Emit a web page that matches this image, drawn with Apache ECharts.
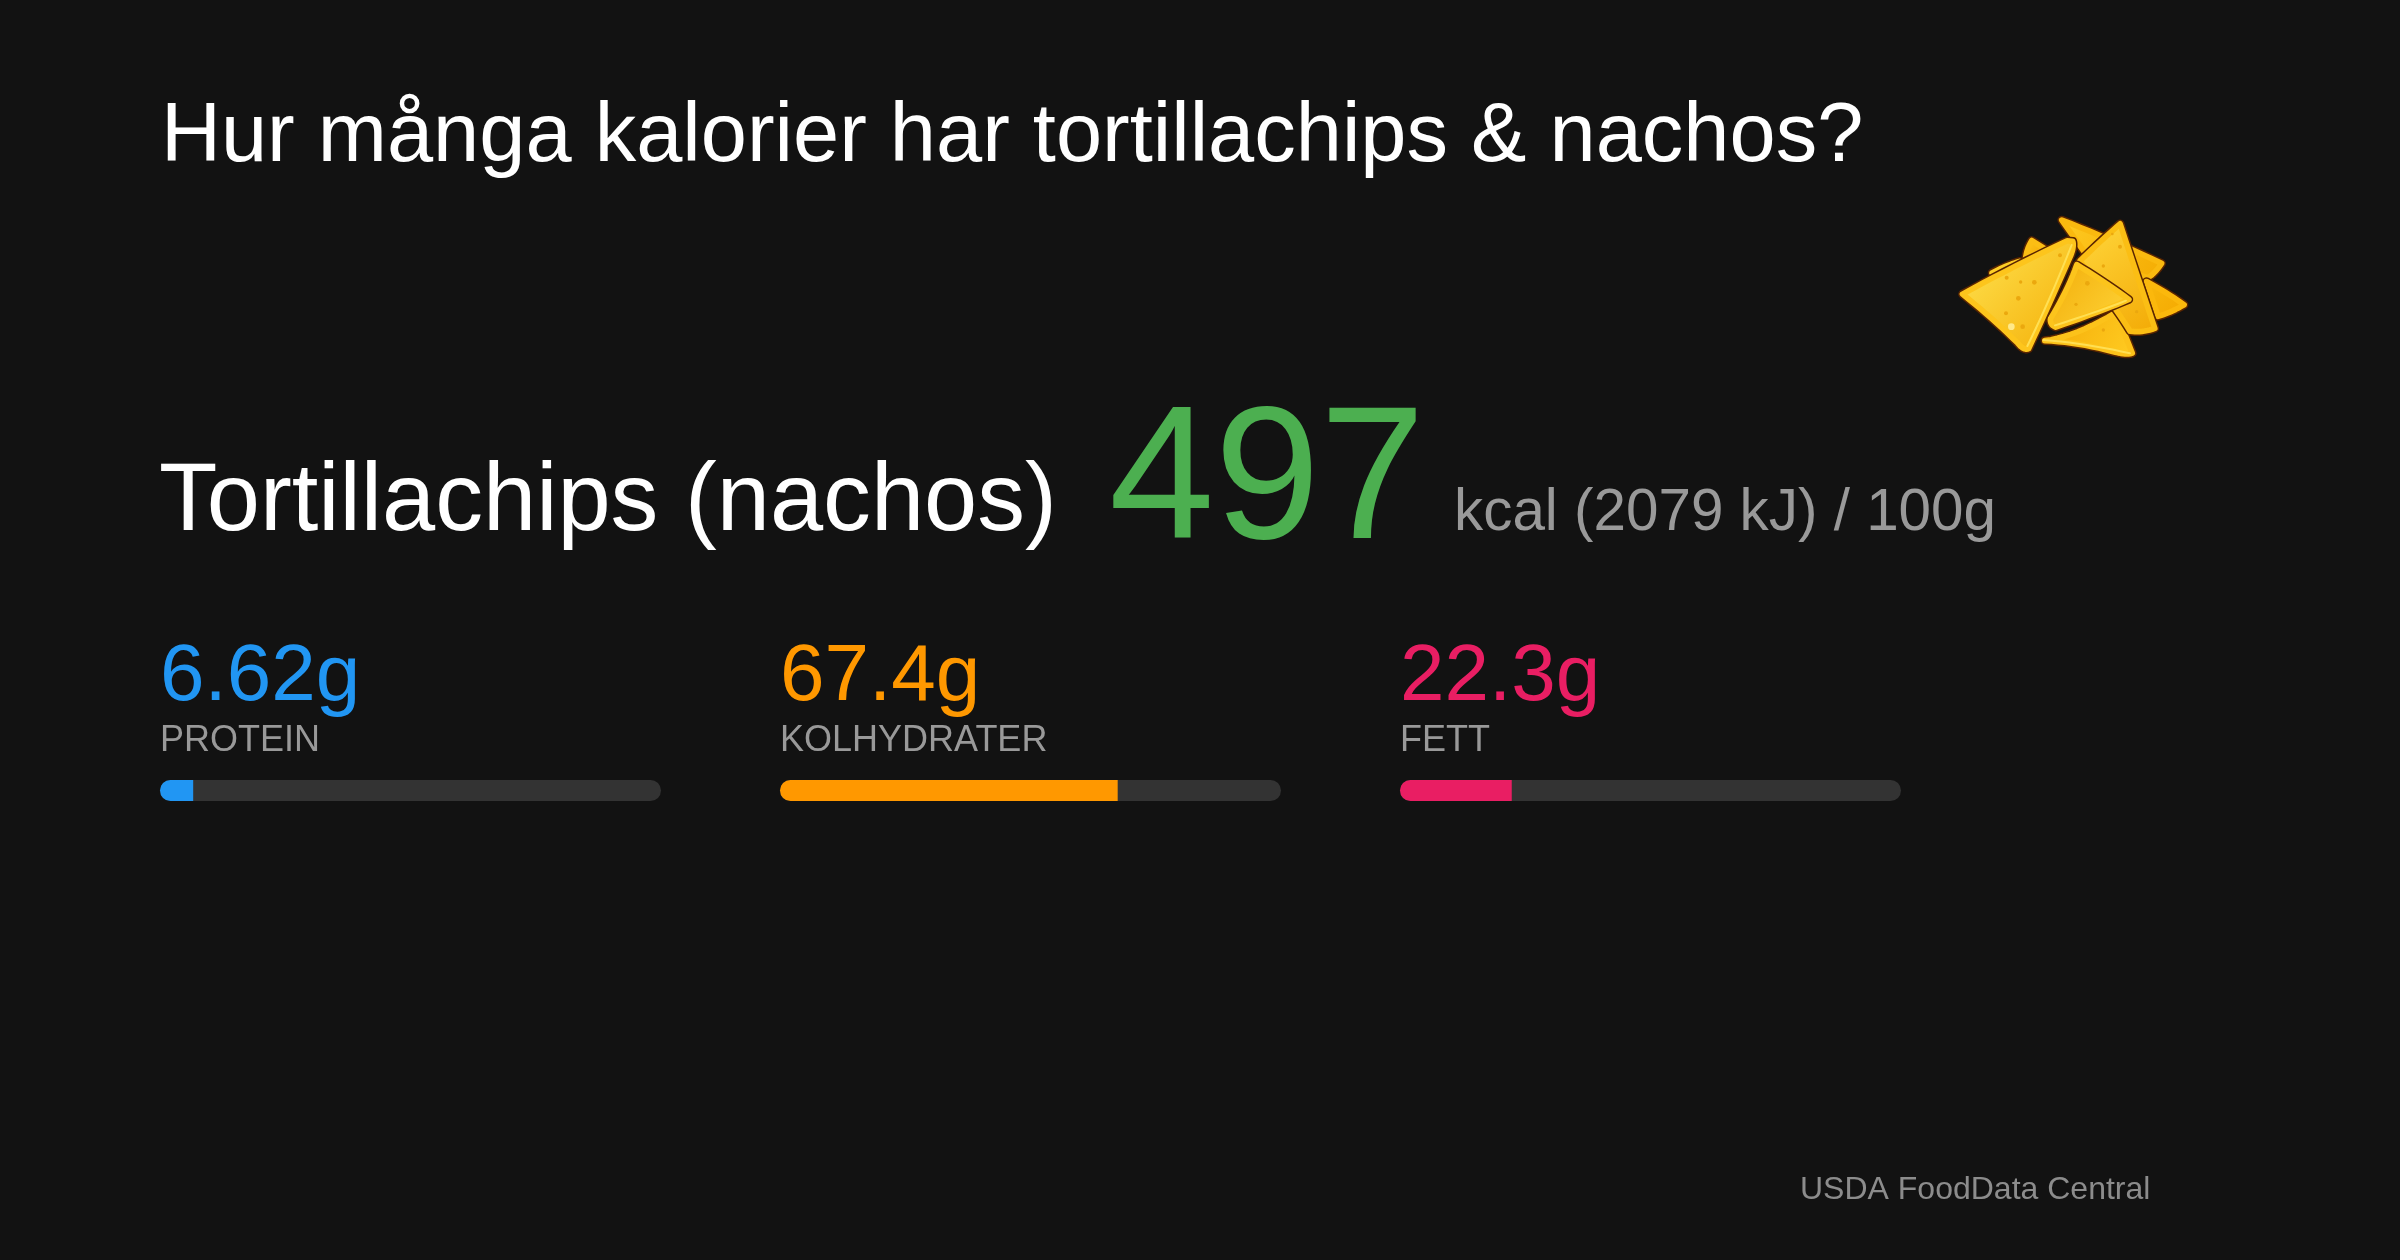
<!DOCTYPE html>
<html><head><meta charset="utf-8">
<style>html,body{margin:0;padding:0;background:#121212}#c{width:2400px;height:1260px}</style>
<script src="https://cdn.jsdelivr.net/npm/echarts@6/dist/echarts.min.js"></script>
</head><body><div id="c"></div>
<script>
const chartTitle = "Hur många kalorier har tortillachips & nachos?";
const foodName = "Tortillachips (nachos)";
const kcal = "497";
const energyNote = "kcal (2079 kJ) / 100g";
const sourceNote = "USDA FoodData Central";
const nutrients = ["PROTEIN", "KOLHYDRATER", "FETT"];
const grams = [6.62, 67.4, 22.3];
const gramLabels = ["6.62g", "67.4g", "22.3g"];
const colors = ["#2196F3", "#FF9800", "#E91E63"];
const lefts = [160, 780, 1400];
const FONT = '"Liberation Sans", Arial, sans-serif';

const chart = echarts.init(document.getElementById('c'), null, {renderer:'canvas', width:2400, height:1260});

const txt = (text, x, y, size, fill) => ({type:'text', x, y, silent:true,
  style:{text, fill, font:`${size}px ${FONT}`, textAlign:'left', textVerticalAlign:'middle'}});

// decorative chip icon: outlines given as M/L/Q strings in a local 3x space, sampled to polygon points
function outline(d){
  const t = d.match(/[MLQZ]|-?\d+(\.\d+)?/g); const pts=[]; let i=0, cur=null;
  while(i<t.length){
    const c=t[i++];
    if(c==='M'||c==='L'){ cur=[+t[i],+t[i+1]]; i+=2; pts.push(cur); }
    else if(c==='Q'){
      const p=[+t[i],+t[i+1]], e=[+t[i+2],+t[i+3]]; i+=4;
      for(let k=1;k<=10;k++){ const u=k/10,v=1-u;
        pts.push([v*v*cur[0]+2*u*v*p[0]+u*u*e[0], v*v*cur[1]+2*u*v*p[1]+u*u*e[1]]); }
      cur=e;
    }
  }
  return pts;
}
// pull an outline towards its centre so a wide round-joined stroke lands on the real edge
function inset(pts, f){
  const cx=pts.reduce((s,p)=>s+p[0],0)/pts.length, cy=pts.reduce((s,p)=>s+p[1],0)/pts.length;
  return pts.map(p=>[cx+(p[0]-cx)*f, cy+(p[1]-cy)*f]);
}
const grad = (c1,c2) => ({type:'linear',x:0,y:0,x2:1,y2:1,colorStops:[{offset:0,color:c1},{offset:1,color:c2}]});
const chip = (d, c1, c2, edge) => {
  const pts = inset(outline(d), 0.93);
  return [
    {type:'polygon', silent:true, shape:{points:pts}, style:{fill:'#5a2500', stroke:'#5a2500', lineWidth:26, lineJoin:'round'}},
    {type:'polygon', silent:true, shape:{points:pts}, style:{fill:grad(c1,c2), stroke:edge||'#FBBE14', lineWidth:17, lineJoin:'round'}}
  ];
};
const rim = (d) => ({type:'polyline', silent:true, shape:{points:outline(d)},
  style:{fill:'none', stroke:'#FFE25A', lineWidth:6, lineCap:'round', lineJoin:'round', opacity:0.9}});
const speck = (x,y,r) => ({type:'circle', silent:true, shape:{cx:x,cy:y,r}, style:{fill:'#EBA80E'}});
const icon = {type:'group', x:1900, y:180, scaleX:1/3, scaleY:1/3, silent:true, children:[
  ...chip('M470 112 Q620 170 792 252 Q770 285 748 298 L560 240 Z','#FFCB22','#F4AB02','#FAB90F'),
  ...chip('M735 300 Q800 335 856 375 Q810 402 772 412 Z','#F9B90E','#F4A800','#FBB80C'),
  ...chip('M422 482 Q520 470 650 392 Q680 460 704 522 Q690 530 640 517 Q530 487 422 482 Z','#F4AA06','#FFCC22','#FCC21A'),
  ...chip('M396 180 L440 208 L376 236 Q380 205 396 180 Z','#FFC91F','#F2A500','#FBBE14'),
  ...chip('M273 280 Q320 255 362 243 L330 264 L285 285 Z','#FFD42A','#F5B000','#FFCF26'),
  ...chip('M660 118 Q700 240 772 455 Q730 470 692 464 Q640 380 530 238 Q600 170 660 118 Z','#FFD83E','#F3A904','#FBBE14'),
  ...chip('M530 246 Q620 300 698 358 Q600 400 462 447 Q443 440 445 420 Q500 330 530 246 Z','#F2AC08','#FFD63A','#FCC41C'),
  ...chip('M528 172 Q532 190 522 215 Q450 380 385 518 Q370 525 350 500 Q270 420 172 342 Q340 250 510 170 Z','#FFE554','#F4AE05','#FDC51C'),
  rim('M515 195 Q450 360 382 498'),
  rim('M465 436 Q580 400 678 362'),
  rim('M430 480 Q560 490 690 520'),
  speck(480,226,6),speck(403,307,7),speck(355,355,7),speck(362,306,5),speck(320,293,6),
  speck(562,310,7),speck(528,373,5),speck(660,200,6),speck(637,162,4),speck(610,258,5),
  speck(368,440,7),speck(318,400,6),speck(610,450,5),speck(710,395,5),
  {type:'circle', silent:true, shape:{cx:334,cy:440,r:10}, style:{fill:'#FFE98A'}}
]};

const nutrientTexts = [];
nutrients.forEach((n,i)=>{
  nutrientTexts.push(txt(gramLabels[i], lefts[i], 678, 80, colors[i]));
  nutrientTexts.push(txt(n, lefts[i], 741, 36, '#999999'));
});

chart.setOption({
  backgroundColor:'#121212',
  animation:false,
  grid: nutrients.map((n,i)=>({left:lefts[i], top:780, width:501, height:21})),
  xAxis: nutrients.map((n,i)=>({type:'value', gridIndex:i, min:0, max:100, show:false})),
  yAxis: nutrients.map((n,i)=>({type:'category', gridIndex:i, data:[n], show:false})),
  series: nutrients.map((n,i)=>({
    type:'bar', xAxisIndex:i, yAxisIndex:i, data:[grams[i]], barWidth:21, silent:true,
    showBackground:true, backgroundStyle:{color:'#333333', borderRadius:10.5},
    itemStyle:{color:colors[i], borderRadius:[10.5,0,0,10.5]}
  })),
  graphic:[
    txt(chartTitle, 161, 138, 83, '#FFFFFF'),
    txt(foodName, 159, 504, 95.6, '#FFFFFF'),
    txt(kcal, 1109, 486, 189.5, '#4CAF50'),
    txt(energyNote, 1454, 514, 58.4, '#999999'),
    ...nutrientTexts,
    txt(sourceNote, 1800, 1190, 32, '#8c8c8c'),
    icon
  ]
});
</script></body></html>
